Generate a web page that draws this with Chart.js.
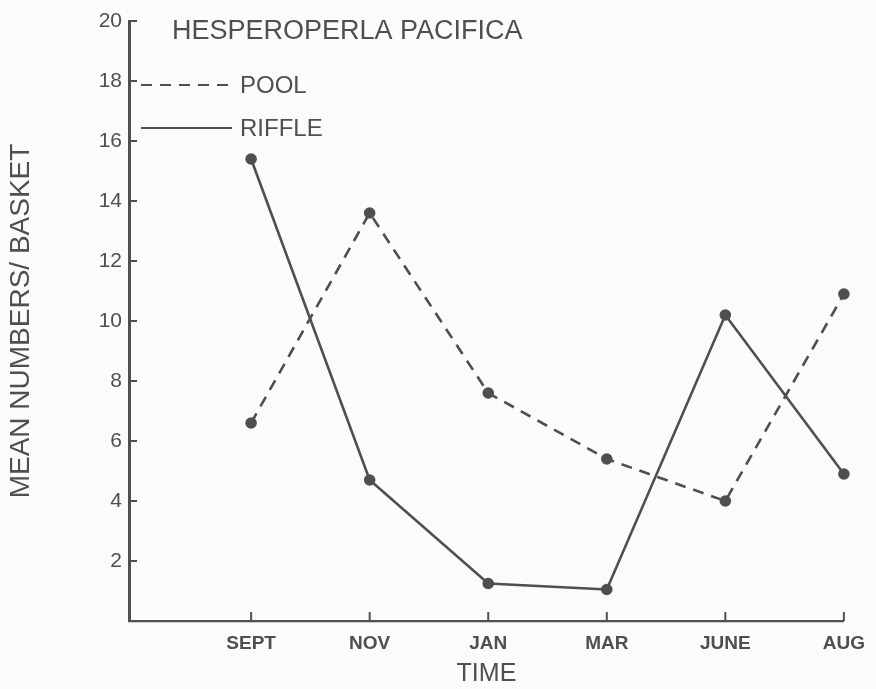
<!DOCTYPE html>
<html>
<head>
<meta charset="utf-8">
<script src="https://cdn.jsdelivr.net/npm/chart.js@4.4.1/dist/chart.umd.min.js"></script>
<style>
  html, body { margin: 0; padding: 0; background: #fbfbf9; }
  #wrap { width: 876px; height: 689px; }
</style>
</head>
<body>
<div id="wrap"><canvas id="stoneflyChart"></canvas></div>
<script>
const months = ['SEPT', 'NOV', 'JAN', 'MAR', 'JUNE', 'AUG'];
const poolValues = [6.6, 13.6, 7.6, 5.4, 4.0, 10.9];
const riffleValues = [15.4, 4.7, 1.25, 1.05, 10.2, 4.9];
const yTicks = [2, 4, 6, 8, 10, 12, 14, 16, 18, 20];

const ink = '#4f4f4f';
const font = "'Liberation Sans', 'DejaVu Sans', sans-serif";

// hand-drawn style: ticks point into the plot, title + legend sit inside it
const paperPlugin = {
    id: 'paper',
    afterDraw(chart) {
        const { ctx, chartArea, scales } = chart;
        const x = scales.x, y = scales.y;
        ctx.save();
        ctx.strokeStyle = ink;
        ctx.lineWidth = 2;
        yTicks.forEach(v => {
            const py = y.getPixelForValue(v);
            ctx.beginPath();
            ctx.moveTo(chartArea.left, py);
            ctx.lineTo(chartArea.left + 8, py);
            ctx.stroke();
        });
        months.forEach((m, i) => {
            const px = x.getPixelForValue(i);
            ctx.beginPath();
            ctx.moveTo(px, chartArea.bottom);
            ctx.lineTo(px, chartArea.bottom - 9);
            ctx.stroke();
        });

        ctx.fillStyle = ink;
        ctx.textBaseline = 'middle';
        ctx.textAlign = 'left';
        ctx.font = '27px ' + font;
        ctx.fillText('HESPEROPERLA PACIFICA', chartArea.left + 43, y.getPixelForValue(20) + 11);

        const legendRows = [85, 128];
        chart.data.datasets.forEach((ds, i) => {
            const ly = legendRows[i];
            ctx.beginPath();
            ctx.setLineDash(ds.borderDash || []);
            ctx.lineWidth = 1.8;
            ctx.moveTo(chartArea.left + 12, ly);
            ctx.lineTo(chartArea.left + 103, ly);
            ctx.stroke();
            ctx.setLineDash([]);
            ctx.font = '24px ' + font;
            ctx.fillText(ds.label, chartArea.left + 111, ly + 1);
        });
        ctx.restore();
    }
};

const data = {
    datasets: [{
        label: 'POOL',
        data: poolValues.map((v, i) => ({ x: i, y: v })),
        borderColor: ink,
        backgroundColor: ink,
        borderWidth: 2.6,
        borderDash: [11, 8],
        pointRadius: 4.5,
        pointBackgroundColor: ink,
        tension: 0
    }, {
        label: 'RIFFLE',
        data: riffleValues.map((v, i) => ({ x: i, y: v })),
        borderColor: ink,
        backgroundColor: ink,
        borderWidth: 2.6,
        pointRadius: 4.5,
        pointBackgroundColor: ink,
        tension: 0
    }]
};

const config = {
    type: 'line',
    data: data,
    options: {
        responsive: true,
        maintainAspectRatio: false,
        animation: false,
        clip: false,
        layout: {
            padding: { top: 21, right: 28, left: 0, bottom: 0 }
        },
        plugins: {
            legend: { display: false },
            tooltip: { enabled: false }
        },
        scales: {
            x: {
                type: 'linear',
                min: -1.03,
                max: months.length - 1,
                afterBuildTicks: scale => {
                    scale.ticks = months.map((m, i) => ({ value: i }));
                },
                afterFit: scale => { scale.height = 68; },
                grid: { display: false, drawTicks: false },
                border: { display: true, color: ink, width: 2.2 },
                ticks: {
                    padding: 11,
                    color: ink,
                    font: { family: font, size: 19, weight: 'bold' },
                    callback: value => months[value] || ''
                },
                title: {
                    display: true,
                    text: 'TIME',
                    color: ink,
                    padding: { top: 7, bottom: 0 },
                    font: { family: font, size: 25 }
                }
            },
            y: {
                min: 0,
                max: 20,
                afterBuildTicks: scale => {
                    scale.ticks = yTicks.map(v => ({ value: v }));
                },
                afterFit: scale => { scale.width = 129; },
                grid: { display: false, drawTicks: false },
                border: { display: true, color: ink, width: 3 },
                ticks: {
                    padding: 7,
                    color: ink,
                    font: { family: font, size: 21 }
                },
                title: {
                    display: true,
                    text: 'MEAN NUMBERS/ BASKET',
                    color: ink,
                    padding: { top: 4, bottom: 10 },
                    font: { family: font, size: 28 }
                }
            }
        }
    },
    plugins: [paperPlugin]
};

new Chart(document.getElementById('stoneflyChart'), config);
</script>
</body>
</html>
